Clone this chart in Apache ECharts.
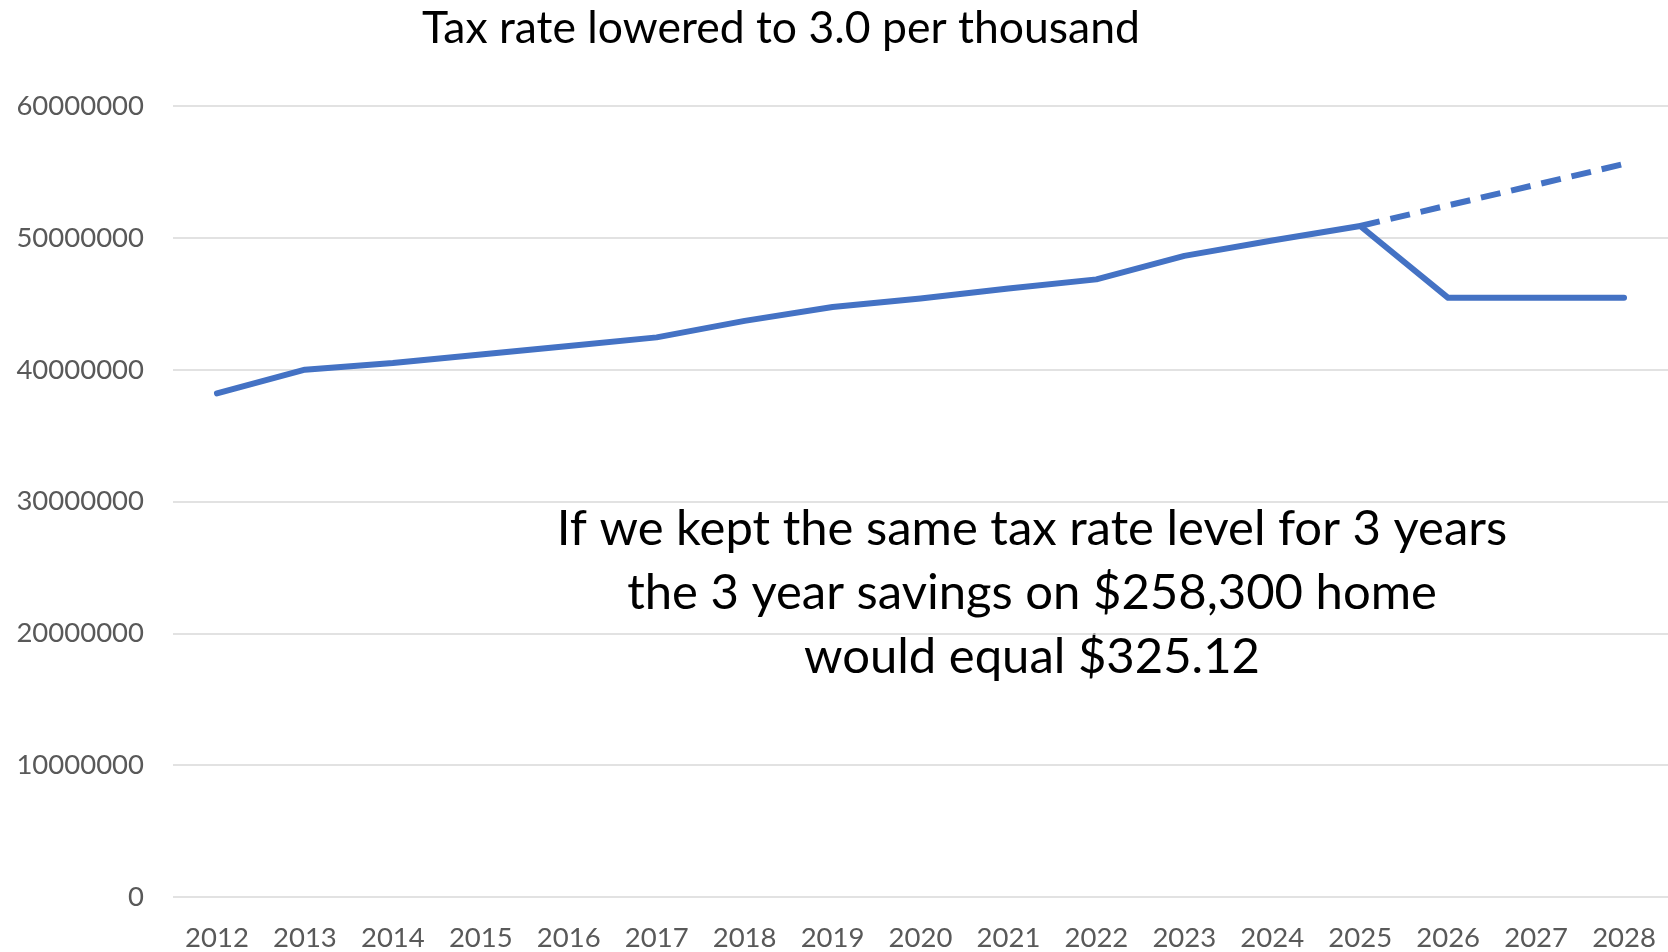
<!DOCTYPE html>
<html>
<head>
<meta charset="utf-8">
<script src="https://cdn.jsdelivr.net/npm/echarts@6/dist/echarts.min.js"></script>
<style>
  html, body { margin: 0; padding: 0; background: #fff; }
  #chart { width: 1668px; height: 952px; }
</style>
</head>
<body>
<div id="chart"></div>
<script>
// years on the x axis
const years = ['2012', '2013', '2014', '2015', '2016', '2017', '2018', '2019', '2020',
  '2021', '2022', '2023', '2024', '2025', '2026', '2027', '2028'];
// revenue with the lowered rate (solid line)
const lowered = [38200000, 40000000, 40500000, 41150000, 41800000, 42450000, 43700000,
  44750000, 45400000, 46150000, 46850000, 48630000, 49800000, 50900000, 45450000,
  45450000, 45450000];
// revenue if the rate were kept (dashed line)
const kept = [null, null, null, null, null, null, null, null, null, null, null, null,
  null, 50900000, 52460000, 54030000, 55600000];
const titleText = 'Tax rate lowered to 3.0 per thousand';
const noteLines = [
  'If we kept the same tax rate level for 3 years',
  'the 3 year savings on $258,300 home',
  'would equal $325.12'
];

const myChart = echarts.init(document.getElementById('chart'));
const lineColor = '#4472C4';
const fontFam = 'Lato, "Open Sans", sans-serif';

myChart.setOption({
  animation: false,
  title: {
    text: titleText,
    left: 776,
    top: 1,
    textAlign: 'center',
    textStyle: { fontFamily: fontFam, fontSize: 44.5, fontWeight: 'normal', color: '#000' }
  },
  graphic: [{
    type: 'text',
    x: 1032,
    y: 497,
    style: {
      text: noteLines.join('\n'),
      align: 'center',
      verticalAlign: 'top',
      fontFamily: fontFam,
      fontSize: 49,
      lineHeight: 64,
      fill: '#000'
    }
  }],
  grid: { left: 173, width: 1502, top: 106, bottom: 55, containLabel: false },
  xAxis: {
    type: 'category',
    data: years,
    boundaryGap: true,
    axisLine: { show: false },
    axisTick: { show: false },
    axisLabel: { color: '#595959', fontFamily: fontFam, fontSize: 27.5, margin: 27 }
  },
  yAxis: {
    type: 'value',
    min: 0,
    max: 60000000,
    interval: 10000000,
    axisLine: { show: false },
    axisTick: { show: false },
    axisLabel: {
      color: '#595959', fontFamily: fontFam, fontSize: 27.5, margin: 29,
      formatter: v => String(v)
    },
    splitLine: { lineStyle: { color: '#d9d9d9', width: 1.5 } }
  },
  series: [
    {
      name: 'Lowered',
      type: 'line',
      data: lowered,
      symbol: 'none',
      lineStyle: { color: lineColor, width: 6, cap: 'round', join: 'round' }
    },
    {
      name: 'Kept',
      type: 'line',
      data: kept,
      symbol: 'none',
      lineStyle: { color: lineColor, width: 6, type: [20, 11] }
    }
  ]
});
</script>
</body>
</html>
